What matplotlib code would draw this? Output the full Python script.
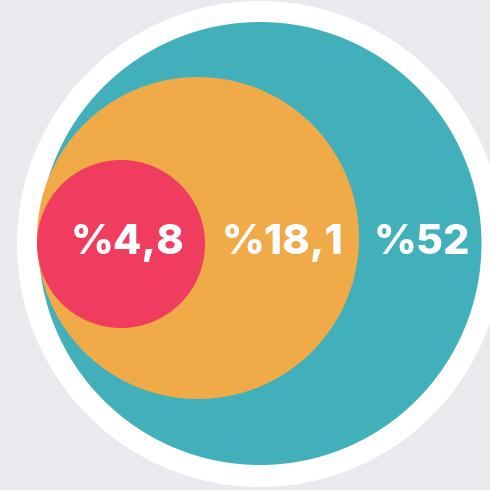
"""Nested circles chart (%52 / %18,1 / %4,8)."""
import matplotlib.pyplot as plt
from matplotlib.patches import Circle

labels = ["%52", "%18,1", "%4,8"]
values = [52, 18.1, 4.8]
colors = ["#41b0bb", "#f0aa48", "#f03d5f"]

# layout (pixel space, y down)
centers = [(260, 243.5), (198, 238), (121, 244)]
radii = [221.5, 161, 84]
label_x = [422, 283, 127]
label_y = 243

BG = "#e9eaee"

fig = plt.figure(figsize=(4.9, 4.9), dpi=100, facecolor=BG)
ax = fig.add_axes([0, 0, 1, 1])
ax.set_xlim(0, 490)
ax.set_ylim(490, 0)
ax.set_aspect("equal")
ax.axis("off")
ax.set_facecolor(BG)

# white ring behind everything
ax.add_patch(Circle((260, 244), 243, color="white", lw=0))

for (cx, cy), r, c in zip(centers, radii, colors):
    ax.add_patch(Circle((cx, cy), r, color=c, lw=0))

for lab, x in zip(labels, label_x):
    ax.text(x, label_y, lab, ha="center", va="center", color="white",
            fontsize=30, fontweight="heavy", family=["Inter", "DejaVu Sans"])

fig.savefig("out.png", dpi=100, facecolor=BG)
